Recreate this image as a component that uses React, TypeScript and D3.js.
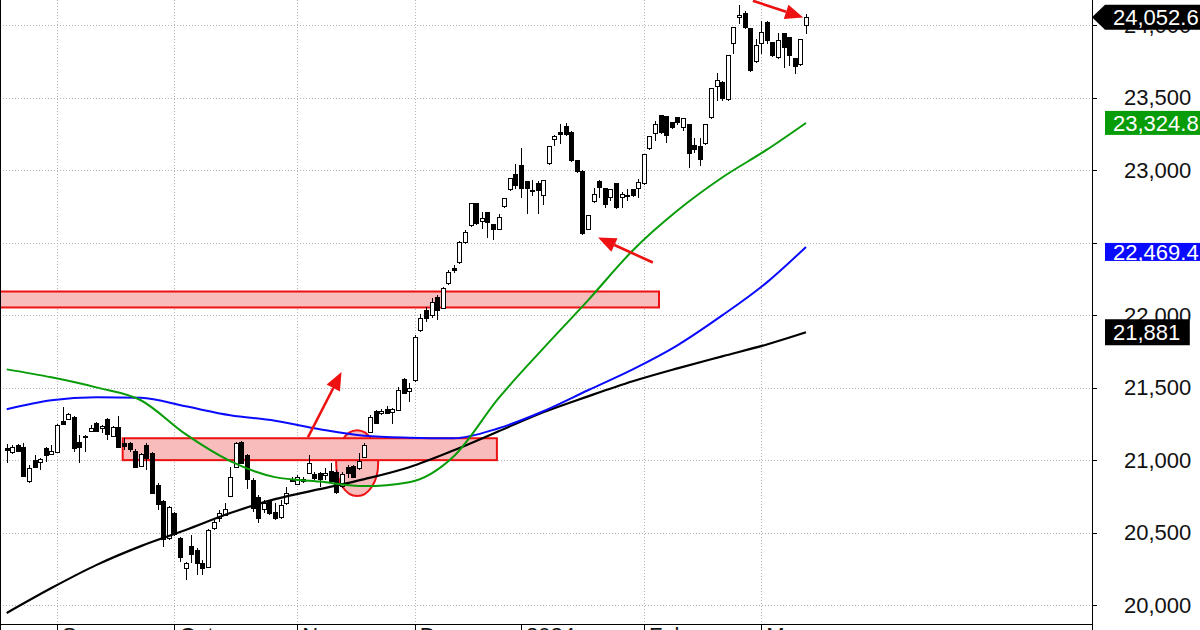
import React from 'react';
import * as d3 from 'd3';

const OPEN = [
  21081, 21054, 21102, 21088, 20854, 20999, 20985, 21081, 21040, 21054,
  21267, 21281, 21295, 21123, 21157, 21198, 21253, 21219, 21281, 21164,
  21226, 21116, 21116, 21061, 20957, 21102, 21047, 20826, 20716, 20461,
  20634, 20461, 20255, 20406, 20379, 20289, 20262, 20530, 20599, 20620,
  20751, 20950, 21123, 21033, 20861, 20744, 20661, 20716, 20640, 20606,
  20702, 20868, 20833, 20854, 20909, 20902, 20909, 20895, 20923, 20916,
  20820, 20950, 20957, 20944, 21019, 21191, 21336, 21322, 21350, 21329,
  21343, 21556, 21474, 21550, 21894, 22032, 21997, 22121, 22045, 22218,
  22321, 22362, 22500, 22617, 22769, 22645, 22707, 22624, 22590, 22748,
  22865, 22968, 23030, 22920, 22858, 22906, 22824, 23044, 23209, 23258,
  23299, 23258, 23065, 22989, 22590, 22782, 22920, 22872, 22810, 22906,
  22810, 22817, 22865, 22872, 22906, 23147, 23251, 23375, 23368, 23326,
  23361, 23292, 23313, 23168, 23161, 23182, 23361, 23574, 23602, 23485,
  23870, 24050, 24077, 23974, 23746, 23870, 24015, 23877, 23774, 23939,
  23912, 23767, 23726, 23994,
];
const HIGH = [
  21109, 21102, 21109, 21116, 20964, 21033, 21012, 21088, 21102, 21247,
  21364, 21322, 21302, 21171, 21171, 21240, 21260, 21240, 21288, 21233,
  21302, 21150, 21123, 21074, 21047, 21116, 21054, 20840, 20723, 20682,
  20640, 20468, 20296, 20482, 20393, 20310, 20523, 20585, 20654, 20702,
  20950, 21123, 21129, 21040, 20875, 20758, 20723, 20723, 20702, 20723,
  20813, 20882, 20895, 20882, 21033, 20916, 20916, 20944, 20978, 20930,
  20916, 20964, 20964, 21047, 21116, 21309, 21343, 21350, 21370, 21357,
  21501, 21563, 21529, 21859, 22004, 22052, 22114, 22135, 22190, 22307,
  22342, 22507, 22583, 22775, 22775, 22707, 22713, 22631, 22700, 22810,
  22948, 23044, 23154, 22927, 22934, 22927, 22934, 23168, 23244, 23320,
  23326, 23271, 23072, 23000, 22693, 22879, 22934, 22879, 22872, 22913,
  22851, 22872, 22872, 22941, 23113, 23237, 23340, 23382, 23375, 23333,
  23368, 23361, 23320, 23223, 23223, 23320, 23568, 23671, 23616, 23795,
  23987, 24139, 24098, 23981, 23905, 24029, 24029, 23884, 23946, 23946,
  23919, 23774, 23905, 24077,
];
const LOW = [
  20978, 21040, 21054, 20882, 20840, 20944, 20930, 20985, 21040, 21047,
  21240, 21274, 21054, 20978, 21054, 21191, 21191, 21185, 21136, 21157,
  21081, 21067, 21054, 20944, 20950, 20930, 20764, 20654, 20399, 20448,
  20475, 20296, 20172, 20289, 20207, 20207, 20255, 20517, 20572, 20613,
  20744, 20944, 20971, 20799, 20640, 20565, 20634, 20620, 20585, 20592,
  20689, 20847, 20826, 20840, 20902, 20861, 20813, 20861, 20847, 20764,
  20806, 20875, 20875, 20930, 21012, 21185, 21247, 21309, 21315, 21247,
  21336, 21453, 21398, 21536, 21880, 21949, 21977, 21963, 22039, 22204,
  22293, 22355, 22493, 22610, 22624, 22590, 22528, 22514, 22583, 22741,
  22858, 22872, 22810, 22700, 22824, 22700, 22762, 23037, 23168, 23182,
  23237, 23058, 22982, 22555, 22583, 22775, 22810, 22741, 22789, 22734,
  22741, 22789, 22817, 22810, 22899, 23140, 23202, 23251, 23189, 23285,
  23313, 23271, 23016, 23120, 23030, 23175, 23354, 23478, 23478, 23478,
  23802, 24008, 23974, 23678, 23740, 23802, 23870, 23781, 23767, 23705,
  23719, 23664, 23719, 23939,
];
const CLOSE = [
  21067, 21088, 21061, 20888, 20944, 20950, 21005, 21033, 21061, 21240,
  21247, 21315, 21081, 21088, 21164, 21219, 21198, 21233, 21178, 21226,
  21088, 21095, 21074, 20950, 21040, 21012, 20771, 20696, 20455, 20675,
  20489, 20331, 20289, 20351, 20289, 20255, 20517, 20572, 20634, 20661,
  20882, 21116, 20978, 20868, 20668, 20599, 20702, 20634, 20599, 20689,
  20771, 20854, 20882, 20868, 20978, 20875, 20868, 20909, 20854, 20778,
  20902, 20909, 20882, 20992, 21102, 21295, 21253, 21336, 21322, 21350,
  21481, 21460, 21494, 21846, 21977, 21977, 22087, 22032, 22183, 22293,
  22307, 22500, 22569, 22769, 22631, 22665, 22638, 22590, 22672, 22803,
  22941, 22893, 22872, 22872, 22851, 22858, 22927, 23161, 23230, 23244,
  23244, 23065, 22989, 22562, 22686, 22831, 22879, 22762, 22865, 22741,
  22831, 22824, 22824, 22913, 23106, 23230, 23313, 23258, 23237, 23292,
  23326, 23354, 23113, 23140, 23072, 23313, 23561, 23616, 23492, 23788,
  23981, 24063, 23981, 23685, 23857, 23946, 23891, 23788, 23891, 23843,
  23788, 23712, 23898, 24052.6,
];

// moving averages sampled at these bar indices
const MA_INDEX = [0, 8, 16, 24, 32, 40, 48, 56, 64, 72, 80, 88, 96, 104, 112, 120, 128, 136, 143];
const MA_GREEN = [21625, 21570, 21501, 21412, 21178, 20992, 20882, 20851, 20820, 20847, 21026, 21426, 21770, 22101, 22445, 22720, 22948, 23140, 23324.8];
const MA_BLUE = [21350, 21412, 21432, 21429, 21370, 21309, 21271, 21212, 21167, 21154, 21150, 21219, 21336, 21481, 21625, 21791, 21997, 22225, 22469.4];
const MA_BLACK = [19945, 20117, 20275, 20406, 20517, 20634, 20730, 20799, 20868, 20950, 21067, 21198, 21329, 21439, 21543, 21632, 21715, 21797, 21881];

const PRICE_TICKS = [20000, 20500, 21000, 21500, 22000, 22500, 23000, 23500, 24000];
const LABELLED_TICKS = [20000, 20500, 21000, 21500, 22000, 23000, 23500, 24000];
const MONTH_INDEX = [9, 30, 52, 73, 92, 114, 135];
const MONTH_LABELS = ['Sep', 'Oct', 'Nov', 'Dec', '2024', 'Feb', 'Mar'];
const GRID_MONTH_INDEX = [9, 30, 52, 73, 114, 135];

// annotations (bar index / price)
const ZONE_UPPER = { from: -1.2, to: 116.7, low: 22052, high: 22162 };
const ZONE_LOWER = { from: 20.75, to: 87.7, low: 20999, high: 21150 };
const CIRCLE_MARK = { i: 62.7, p: 20978, di: 3.76, dp: 227 };
const ARROWS = [
  { i1: 53.9, p1: 21157, i2: 59.9, p2: 21607 },
  { i1: 115.6, p1: 22362, i2: 105.8, p2: 22534 },
  { i1: 133.5, p1: 24167, i2: 142.5, p2: 24052 },
];

const FONT = '"Liberation Sans", Arial, sans-serif';
const RED = '#ee1111';
const PINK = '#f8bcbc';

export default function App() {
  const N = CLOSE.length;
  const x = d3.scaleLinear().domain([0, N - 1]).range([6.7, 806]);
  const y = d3.scaleLinear().domain([20000, 24000]).range([605, 25]);
  const axisX = 1092;
  const bottomY = 624;
  const fmt = (v: number) => d3.format(',')(v);

  const maLine = d3
    .line<number>()
    .x((_, i) => x(MA_INDEX[i]))
    .y((d) => y(d))
    .curve(d3.curveMonotoneX);

  const arrowEls = ARROWS.map((a, k) => {
    const x1 = x(a.i1), y1 = y(a.p1), x2 = x(a.i2), y2 = y(a.p2);
    const ang = Math.atan2(y2 - y1, x2 - x1);
    const L = 18, W = 7.5;
    const bx = x2 - L * Math.cos(ang), by = y2 - L * Math.sin(ang);
    const px = -Math.sin(ang), py = Math.cos(ang);
    const pts = [
      [x2, y2],
      [bx + W * px, by + W * py],
      [bx - W * px, by - W * py],
    ];
    return (
      <g key={k}>
        <line x1={x1} y1={y1} x2={bx} y2={by} stroke={RED} strokeWidth={2.6} />
        <polygon points={pts.map((p) => p.join(',')).join(' ')} fill={RED} />
      </g>
    );
  });

  const valueLabels = [
    { v: MA_GREEN[MA_GREEN.length - 1], color: '#089c08', h: 24, dy: 0 },
    { v: MA_BLUE[MA_BLUE.length - 1], color: '#0a0aff', h: 18, dy: 5 },
    { v: MA_BLACK[MA_BLACK.length - 1], color: '#000', h: 26, dy: 0 },
  ];

  const lastClose = CLOSE[N - 1];
  const ly = y(lastClose);

  return (
    <svg
      width={1200}
      height={630}
      style={{ position: 'fixed', left: 0, top: 0, background: '#fff' }}
      fontFamily={FONT}
    >
      <rect x={0} y={0} width={1200} height={630} fill="#fff" />
      {/* horizontal grid */}
      {PRICE_TICKS.map((t) => (
        <line key={'h' + t} x1={0} x2={axisX} y1={Math.round(y(t)) + 0.5} y2={Math.round(y(t)) + 0.5}
          stroke="#b4b4b4" strokeDasharray="1,2" />
      ))}
      {/* vertical grid */}
      {GRID_MONTH_INDEX.map((m) => (
        <line key={'v' + m} x1={Math.round(x(m)) + 0.5} x2={Math.round(x(m)) + 0.5} y1={0} y2={bottomY}
          stroke="#b4b4b4" strokeDasharray="1,2" />
      ))}

      {/* annotation circle and zones */}
      <ellipse cx={x(CIRCLE_MARK.i)} cy={y(CIRCLE_MARK.p)}
        rx={x(CIRCLE_MARK.di) - x(0)} ry={y(CIRCLE_MARK.p - CIRCLE_MARK.dp) - y(CIRCLE_MARK.p)}
        fill={PINK} stroke={RED} strokeWidth={2} />
      {[ZONE_UPPER, ZONE_LOWER].map((z, k) => (
        <rect key={'z' + k} x={x(z.from)} y={y(z.high)} width={x(z.to) - x(z.from)} height={y(z.low) - y(z.high)}
          fill={PINK} stroke={RED} strokeWidth={2} />
      ))}

      {/* candles */}
      <g shapeRendering="crispEdges">
        {CLOSE.map((c, i) => {
          const o = OPEN[i];
          const cx = Math.round(x(i)) + 0.5;
          const top = y(Math.max(o, c));
          const bot = y(Math.min(o, c));
          const up = c >= o;
          return (
            <g key={i}>
              <line x1={cx} x2={cx} y1={y(HIGH[i])} y2={y(LOW[i])} stroke="#000" strokeWidth={1} />
              <rect x={cx - 2} y={top} width={4} height={Math.max(bot - top, 1)}
                fill={up ? '#fff' : '#000'} stroke="#000" strokeWidth={1} />
            </g>
          );
        })}
      </g>

      {/* moving averages */}
      <path d={maLine(MA_BLACK) || ''} fill="none" stroke="#000" strokeWidth={2.2} />
      <path d={maLine(MA_BLUE) || ''} fill="none" stroke="#0a0aff" strokeWidth={2} />
      <path d={maLine(MA_GREEN) || ''} fill="none" stroke="#089c08" strokeWidth={2} />

      {arrowEls}

      {/* frame */}
      <line x1={0.5} x2={0.5} y1={0} y2={630} stroke="#000" />
      <line x1={0} x2={axisX} y1={bottomY + 0.5} y2={bottomY + 0.5} stroke="#000" />
      <line x1={axisX + 0.5} x2={axisX + 0.5} y1={0} y2={630} stroke="#000" />

      {/* right axis */}
      {PRICE_TICKS.map((t) => (
        <line key={'tk' + t} x1={axisX} x2={axisX + 5} y1={Math.round(y(t)) + 0.5} y2={Math.round(y(t)) + 0.5} stroke="#000" />
      ))}
      {LABELLED_TICKS.map((t) => (
        <text key={'t' + t} x={1124} y={y(t)} dy="0.36em" fontSize={22} fill="#111">{fmt(t)}</text>
      ))}

      {/* bottom axis */}
      {MONTH_INDEX.map((m, k) => (
        <g key={'m' + m}>
          <line x1={Math.round(x(m)) + 0.5} x2={Math.round(x(m)) + 0.5} y1={bottomY} y2={630} stroke="#000" />
          <text x={x(m) + 5} y={643} fontSize={22} fill="#111">{MONTH_LABELS[k]}</text>
        </g>
      ))}

      {/* value labels */}
      <polygon
        points={`${axisX},${ly} ${axisX + 13},${ly - 12.5} 1200,${ly - 12.5} 1200,${ly + 12.5} ${axisX + 13},${ly + 12.5}`}
        fill="#000"
      />
      <text x={1113} y={ly} dy="0.36em" fontSize={22} fill="#fff">{fmt(lastClose)}</text>
      {valueLabels.map((l, k) => {
        const cy = y(l.v) + l.dy;
        const label = fmt(l.v);
        const w = label.length * 11.8 + 14;
        return (
          <g key={'vl' + k}>
            <rect x={1105} y={cy - l.h / 2} width={Math.min(w, 100)} height={l.h} fill={l.color} />
            <text x={1113} y={cy} dy="0.36em" fontSize={22} fill="#fff">{label}</text>
          </g>
        );
      })}
    </svg>
  );
}
